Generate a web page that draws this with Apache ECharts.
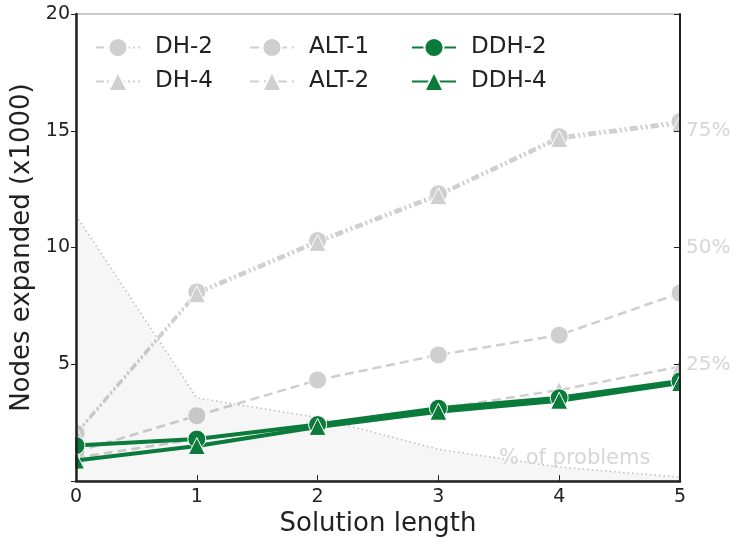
<!DOCTYPE html>
<html>
<head>
<meta charset="utf-8">
<script src="https://cdn.jsdelivr.net/npm/echarts@6/dist/echarts.min.js"></script>
<style>
  html, body { margin: 0; padding: 0; background: #ffffff; }
  #chart { width: 735px; height: 542px; }
</style>
</head>
<body>
<div id="chart"></div>
<script>
// Solution lengths on the x axis
const solutionLengths = [0, 1, 2, 3, 4, 5];

// Nodes expanded (thousands) per heuristic
const dh2 = [2.05, 8.1, 10.3, 12.3, 14.75, 15.4];
const dh4 = [2.0, 8.0, 10.2, 12.2, 14.65, 15.3];
const alt1 = [1.25, 2.8, 4.33, 5.4, 6.25, 8.05];
const alt2 = [1.0, 1.8, 2.4, 3.1, 3.9, 4.9];
const ddh2 = [1.52, 1.8, 2.42, 3.12, 3.57, 4.29];
const ddh4 = [0.88, 1.5, 2.32, 2.97, 3.44, 4.2];

// Share of problems with each solution length (percent, right axis)
const problemsPct = [56.9, 17.8, 13.6, 6.8, 3.0, 0.85];

// Tick labels
const leftTicks = [5, 10, 15, 20];
const rightTicks = [25, 50, 75];

const FONT = 'DejaVu Sans';
const GRAY = '#cfcfcf';
const GREEN = '#0a7b3b';
const DH_DASH = [8, 3, 2, 3, 2, 3];
const ALT_DASH = [9, 5];

const pairs = vals => vals.map((v, i) => [solutionLengths[i], v]);

function graySeries(name, vals, symbol, dash) {
  return {
    name, type: 'line', data: pairs(vals), z: 2,
    symbol, symbolSize: symbol === 'circle' ? 18 : 17,
    itemStyle: { color: GRAY, borderColor: '#ffffff', borderWidth: 1 },
    lineStyle: { color: GRAY, width: 2.5, type: dash },
    emphasis: { disabled: true }
  };
}
function greenSeries(name, vals, symbol) {
  return {
    name, type: 'line', data: pairs(vals), z: 5,
    symbol, symbolSize: symbol === 'circle' ? 18 : 17,
    itemStyle: { color: GREEN, borderColor: '#ffffff', borderWidth: 1 },
    lineStyle: { color: GREEN, width: 4 },
    emphasis: { disabled: true }
  };
}

function legendCol(left, names) {
  return {
    orient: 'vertical', left, top: 31, z: 12,
    itemWidth: 44, itemHeight: 24, itemGap: 11,
    data: names,
    textStyle: { fontFamily: FONT, fontSize: 23, color: '#222', padding: [0, 0, 0, 10] },
    selectedMode: false
  };
}

const chart = echarts.init(document.getElementById('chart'), null, { renderer: 'canvas' });
chart.setOption({
  animation: false,
  backgroundColor: '#ffffff',
  grid: { left: 76, right: 55, top: 14, bottom: 58, show: true, borderColor: '#999', borderWidth: 1, backgroundColor: 'transparent' },
  legend: [
    legendCol(90, ['DH-2', 'DH-4']),
    legendCol(244, ['ALT-1', 'ALT-2']),
    legendCol(406, ['DDH-2', 'DDH-4'])
  ],
  xAxis: {
    type: 'value', min: 0, max: 5, interval: 1, z: 10,
    name: 'Solution length', nameLocation: 'middle', nameGap: 24,
    nameTextStyle: { fontFamily: FONT, fontSize: 26, color: '#222' },
    axisLine: { lineStyle: { color: '#222', width: 2.5 } },
    axisTick: { inside: true, length: 6, lineStyle: { color: '#222', width: 1 } },
    axisLabel: { fontFamily: FONT, fontSize: 19, color: '#222', margin: 6 },
    splitLine: { show: false }
  },
  yAxis: [
    {
      type: 'value', min: 0, max: 20, interval: 5, z: 10,
      name: 'Nodes expanded (x1000)', nameLocation: 'middle', nameGap: 38, nameRotate: 90,
      nameTextStyle: { fontFamily: FONT, fontSize: 26, color: '#222' },
      axisLine: { show: true, lineStyle: { color: '#222', width: 2.5 } },
      axisTick: { show: true, length: 5, lineStyle: { color: '#222', width: 1 } },
      axisLabel: {
        fontFamily: FONT, fontSize: 19, color: '#222', margin: 6,
        formatter: v => leftTicks.includes(v) ? String(v) : ''
      },
      splitLine: { show: false }
    },
    {
      type: 'value', min: 0, max: 100, interval: 25, position: 'right', z: 10,
      axisLine: { show: true, lineStyle: { color: '#222', width: 2 } },
      axisTick: { show: true, inside: true, length: 6, lineStyle: { color: '#222', width: 1 } },
      axisLabel: {
        fontFamily: FONT, fontSize: 20, color: '#d6d6d6', margin: 6,
        formatter: v => rightTicks.includes(v) ? v + '%' : ''
      },
      splitLine: { show: false }
    }
  ],
  series: [
    graySeries('DH-2', dh2, 'circle', DH_DASH),
    graySeries('DH-4', dh4, 'triangle', DH_DASH),
    graySeries('ALT-1', alt1, 'circle', ALT_DASH),
    graySeries('ALT-2', alt2, 'triangle', ALT_DASH),
    {
      name: '% of problems', type: 'line', yAxisIndex: 1, z: 3,
      data: pairs(problemsPct), symbol: 'none',
      lineStyle: { color: '#bdbdbd', width: 1.5, type: [1.5, 3] },
      areaStyle: { color: 'rgba(0,0,0,0.05)', origin: 'start' },
      emphasis: { disabled: true }
    },
    greenSeries('DDH-2', ddh2, 'circle'),
    greenSeries('DDH-4', ddh4, 'triangle')
  ],
  graphic: [
    // white margins so markers stop at the plot edges
    { type: 'rect', z: 8, silent: true, shape: { x: 0, y: 0, width: 75, height: 542 }, style: { fill: '#ffffff' } },
    { type: 'rect', z: 8, silent: true, shape: { x: 681, y: 0, width: 54, height: 542 }, style: { fill: '#ffffff' } },
    {
      type: 'text', left: 499, top: 448, z: 9,
      style: { text: '% of problems', fontFamily: FONT, fontSize: 21, fill: '#d6d6d6' }
    }
  ]
});
</script>
</body>
</html>
